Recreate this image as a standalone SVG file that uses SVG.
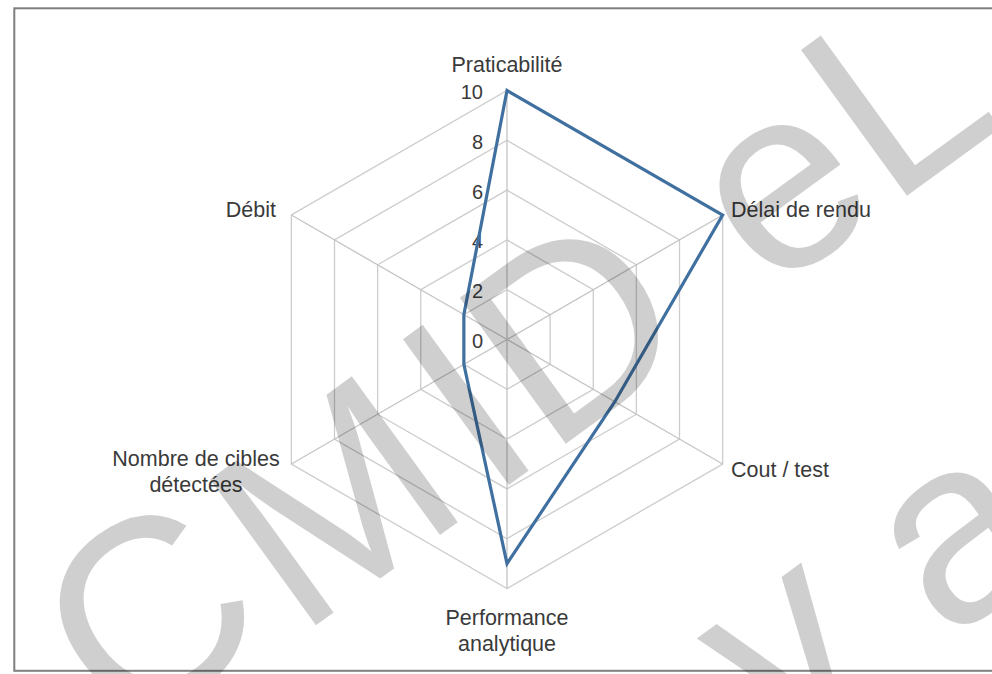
<svg xmlns="http://www.w3.org/2000/svg" width="992" height="674" viewBox="0 0 992 674">
<style>
.grid{fill:none;stroke:#cccccc;stroke-width:1.3}
.spoke{stroke:#c4c4c4;stroke-width:1.3}
.cat{font-family:"Liberation Sans",Arial,sans-serif;font-size:21.5px;fill:#3a3a3a}
.tick{font-family:"Liberation Sans",Arial,sans-serif;font-size:20px;fill:#3a3a3a;text-anchor:end}
.series{fill:none;stroke:#40709f;stroke-width:3.2;stroke-linejoin:miter}
.wm{font-family:"Liberation Sans",Arial,sans-serif;font-size:262px;fill:#000;fill-opacity:0.19}
</style>
<rect width="992" height="674" fill="#ffffff"/>
<rect x="14.3" y="8.3" width="990" height="662.5" fill="none" stroke="#7f7f7f" stroke-width="2"/>
<g id="grid">
<polygon class="grid" points="507,289.7 550.13,314.6 550.13,364.4 507,389.3 463.87,364.4 463.87,314.6"/>
<polygon class="grid" points="507,239.9 593.26,289.7 593.26,389.3 507,439.1 420.74,389.3 420.74,289.7"/>
<polygon class="grid" points="507,190.1 636.38,264.8 636.38,414.2 507,488.9 377.62,414.2 377.62,264.8"/>
<polygon class="grid" points="507,140.3 679.51,239.9 679.51,439.1 507,538.7 334.49,439.1 334.49,239.9"/>
<polygon class="grid" points="507,90.5 722.64,215 722.64,464 507,588.5 291.36,464 291.36,215"/>
<line class="spoke" x1="507" y1="339.5" x2="507" y2="90.5" stroke="#a8a8a8"/>
<line class="spoke" x1="507" y1="339.5" x2="722.64" y2="215"/>
<line class="spoke" x1="507" y1="339.5" x2="722.64" y2="464"/>
<line class="spoke" x1="507" y1="339.5" x2="507" y2="588.5"/>
<line class="spoke" x1="507" y1="339.5" x2="291.36" y2="464"/>
<line class="spoke" x1="507" y1="339.5" x2="291.36" y2="215"/>
</g>
<g id="ticks">
<text class="tick" x="483" y="99">10</text>
<text class="tick" x="483" y="148.8">8</text>
<text class="tick" x="483" y="198.6">6</text>
<text class="tick" x="483" y="248.4">4</text>
<text class="tick" x="483" y="298.2">2</text>
<text class="tick" x="483" y="348">0</text>
</g>
<g id="connectors">
<polygon class="series" points="507,90.5 722.64,215 614.82,401.75 507,563.6 463.87,364.4 463.87,314.6"/>
</g>
<g id="node-praticabilite"><text class="cat" x="507" y="72" text-anchor="middle">Praticabilité</text></g>
<g id="node-delai"><text class="cat" x="731" y="217">Délai de rendu</text></g>
<g id="node-cout"><text class="cat" x="731" y="477">Cout / test</text></g>
<g id="node-performance"><text class="cat" x="507" y="625" text-anchor="middle">Performance</text><text class="cat" x="507" y="651" text-anchor="middle">analytique</text></g>
<g id="node-cibles"><text class="cat" x="196" y="466" text-anchor="middle">Nombre de cibles</text><text class="cat" x="196" y="492" text-anchor="middle">détectées</text></g>
<g id="node-debit"><text class="cat" x="276" y="217" text-anchor="end">Débit</text></g>
<g id="watermark">
<text class="wm" transform="translate(124,742) rotate(-36)" font-size="275">C</text>
<text class="wm" transform="translate(298.6,637.8) rotate(-36)">M</text>
<text class="wm" transform="translate(489.3,499.2) rotate(-36)">I</text>
<text class="wm" transform="translate(548.4,456.3) rotate(-36)">D</text>
<text class="wm" transform="translate(769.8,295.4) rotate(-36)">e</text>
<text class="wm" transform="translate(889.6,208.4) rotate(-36)">L</text>
<text class="wm" transform="translate(777.4,751) rotate(-36)">v</text>
<text class="wm" transform="translate(946,643) rotate(-36)">a</text>
</g>
</svg>
